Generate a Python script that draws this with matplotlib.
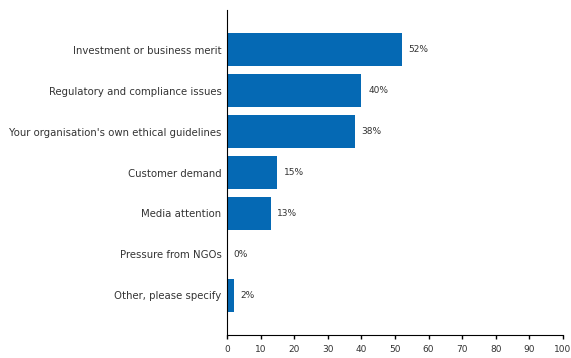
import matplotlib
matplotlib.use('Agg')
import matplotlib.pyplot as plt

categories = ['Investment or business merit',
              'Regulatory and compliance issues',
              "Your organisation's own ethical guidelines",
              'Customer demand',
              'Media attention',
              'Pressure from NGOs',
              'Other, please specify']
values = [52, 40, 38, 15, 13, 0, 2]
xticks = list(range(0, 101, 10))

plt.rcParams['font.family'] = ['DejaVu Sans']

fig = plt.figure(figsize=(5.71, 3.58), dpi=100)
ax = fig.add_axes([0.3975, 0.064, 0.5885, 0.908])

pos = list(range(len(categories)))
ax.barh(pos, values, height=0.8, color='#0569B4')
for p, v in zip(pos, values):
    ax.text(v + 2, p, '%d%%' % v, va='center', ha='left', fontsize=6.5, color='#333333')

ax.set_yticks(pos)
ax.set_yticklabels(categories, fontsize=7.3, color='#333333')
ax.tick_params(axis='y', length=0, pad=4)
ax.set_xticks(xticks)
ax.set_xticklabels([str(t) for t in xticks], fontsize=6.5, color='#333333')
ax.tick_params(axis='x', length=3, width=1, direction='out', pad=4)
ax.set_xlim(0, 100)
ax.set_ylim(6.97, -0.97)
ax.spines['top'].set_visible(False)
ax.spines['right'].set_visible(False)

plt.savefig('out.png', dpi=100)
